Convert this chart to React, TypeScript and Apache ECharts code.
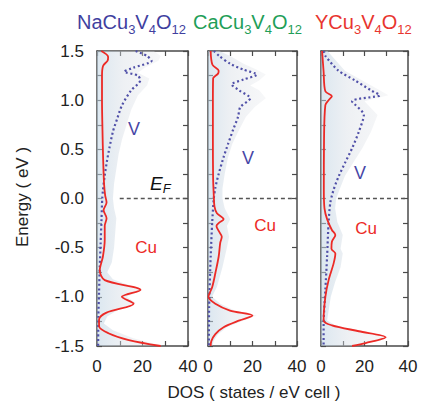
import React, { useEffect, useRef } from 'react';
import * as echarts from 'echarts';

const FONT = '"Liberation Sans", Arial, Helvetica, sans-serif';

// x tick labels shown, y tick labels shown
const xLabelValues = [0, 20, 40];
const yLabelValues = [-1.5, -1.0, -0.5, 0.0, 0.5, 1.0, 1.5];

const compounds = ['Na', 'Ca', 'Y'];
const titleColors = ['#3f3f9f', '#1f9e58', '#e8352f'];

// [DOS, Energy]
const naTotal = [[25,1.5],[28,1.45],[27,1.4],[21,1.33],[18,1.28],[23,1.22],[22,1.15],[18,1.05],[15,0.9],[13,0.75],[11,0.6],[9.5,0.45],[8.5,0.3],[7.5,0.15],[7,0],[7.5,-0.1],[8.5,-0.2],[8,-0.35],[7.5,-0.5],[6.5,-0.65],[4.5,-0.75],[7,-0.82],[14,-0.88],[20,-0.93],[13,-1.0],[17,-1.06],[10,-1.12],[4.5,-1.2],[3,-1.27],[7,-1.34],[16,-1.42],[29,-1.5]];
const naCu = [[1.9,1.5],[4.9,1.44],[4.6,1.4],[2.7,1.35],[2.2,1.25],[2.2,1.0],[2.4,0.7],[2.7,0.4],[3.1,0.15],[3.6,0.03],[4.2,-0.04],[2.9,-0.12],[4.2,-0.2],[3.4,-0.28],[3.4,-0.42],[2.6,-0.59],[1.2,-0.73],[3.4,-0.83],[19.1,-0.93],[10.9,-1.0],[16.1,-1.07],[4.2,-1.16],[0.9,-1.23],[0.9,-1.3],[5,-1.37],[14,-1.44],[28,-1.5]];
const naV = [[17,1.5],[22,1.45],[24,1.4],[16,1.33],[12,1.29],[18,1.25],[19,1.2],[15,1.1],[11,0.95],[9,0.82],[7,0.68],[5.5,0.52],[4.3,0.37],[3.3,0.22],[2.6,0.08],[2.3,0],[2,-0.2],[1.6,-0.45],[1.2,-0.7],[0.9,-0.95],[0.6,-1.2],[0.5,-1.5]];

const caTotal = [[5,1.5],[10,1.45],[16,1.37],[22,1.31],[26,1.26],[23,1.2],[19,1.15],[23,1.1],[26,1.02],[21,0.93],[17,0.83],[14,0.7],[11,0.56],[9,0.42],[7.5,0.25],[6.5,0.1],[6.5,0],[7.5,-0.1],[10,-0.21],[8.5,-0.28],[9.5,-0.39],[8.5,-0.5],[6.5,-0.7],[4,-0.9],[1.8,-1.0],[5.5,-1.07],[12,-1.14],[22,-1.19],[16,-1.24],[8.5,-1.31],[4.5,-1.38],[2.5,-1.45],[2,-1.5]];
const caCu = [[1.2,1.5],[2,1.36],[4.8,1.3],[4.5,1.27],[2.3,1.22],[2.2,1.0],[2.2,0.6],[2.3,0.2],[2.6,0.03],[2.9,-0.08],[4,-0.15],[7,-0.21],[4.8,-0.25],[3.8,-0.28],[4.8,-0.33],[6.2,-0.39],[5.5,-0.45],[4.8,-0.59],[3.3,-0.76],[1.9,-0.9],[0.2,-1.0],[3.3,-1.07],[9.9,-1.14],[20,-1.19],[14.2,-1.24],[7,-1.31],[3.3,-1.38],[1.5,-1.45],[1.2,-1.5]];
const caV = [[2.6,1.5],[5,1.45],[10,1.37],[16,1.31],[22,1.26],[16,1.21],[10.6,1.16],[14,1.1],[19,1.02],[14.5,0.93],[13.5,0.83],[11.3,0.7],[9.1,0.56],[7,0.42],[4.8,0.25],[3.3,0.11],[2.6,0.0],[1.9,-0.24],[1.2,-0.59],[0.5,-1.1],[0.4,-1.5]];

const yTotal = [[3,1.5],[5,1.45],[11,1.3],[19,1.2],[27,1.1],[31,1.05],[20,0.99],[26,0.85],[23,0.68],[19,0.51],[15,0.37],[11,0.23],[8.5,0.09],[7,0],[6.5,-0.1],[7.5,-0.24],[10,-0.37],[9,-0.51],[10,-0.56],[9,-0.7],[6.5,-0.85],[4.5,-1.0],[2.8,-1.24],[6.5,-1.29],[19,-1.35],[31,-1.41],[22,-1.47],[16,-1.5]];
const yCu = [[0.5,1.5],[1.2,1.29],[2,1.09],[5,1.04],[3.5,1.0],[2,0.95],[1.4,0.61],[1.3,0.09],[1.6,-0.1],[2.8,-0.21],[5,-0.32],[6.6,-0.37],[5,-0.44],[4.8,-0.51],[6.6,-0.56],[5.8,-0.66],[3.5,-0.83],[2,-1.0],[1.2,-1.24],[5,-1.29],[17.4,-1.35],[29.7,-1.41],[20.5,-1.47],[14.3,-1.5]];
const yV = [[1.2,1.5],[2,1.45],[8,1.3],[15.7,1.2],[23,1.1],[27,1.05],[14.3,0.99],[19.7,0.85],[17.4,0.68],[14.3,0.51],[11.2,0.37],[8.2,0.23],[5.8,0.09],[4.3,-0.04],[3.5,-0.24],[2.8,-0.59],[2,-0.93],[1.2,-1.28],[1.2,-1.5]];

const totals = [naTotal, caTotal, yTotal];
const cuSeries = [naCu, caCu, yCu];
const vSeries = [naV, caV, yV];
const efStart = [10, 7.6, 7.8];
const efEnergy = 0;

const gridBoxes = [
  { left: 97, width: 91 },
  { left: 208, width: 89 },
  { left: 321, width: 87 },
];
const GRID_TOP = 51;
const GRID_H = 295;

const AXIS_COLOR = '#4a4a4a';

function buildOption() {
  const grid: any[] = [];
  const xAxis: any[] = [];
  const yAxis: any[] = [];
  const series: any[] = [];
  const axisLine = { show: true, onZero: false, lineStyle: { color: AXIS_COLOR, width: 1.5 } };
  const axisTick = { show: true, inside: true, length: 5, lineStyle: { color: AXIS_COLOR, width: 1.2 } };

  for (let i = 0; i < 3; i++) {
    grid.push({ left: gridBoxes[i].left, width: gridBoxes[i].width, top: GRID_TOP, height: GRID_H, show: false });
    xAxis.push({
      gridIndex: i, type: 'value', min: 0, max: 40, interval: 10, position: 'bottom',
      axisLine, axisTick, splitLine: { show: false },
      axisLabel: {
        show: true, fontSize: 17, color: '#222', fontFamily: FONT, margin: 12,
        formatter: (v: number) => (xLabelValues.indexOf(v) >= 0 ? String(v) : ''),
      },
    });
    xAxis.push({
      gridIndex: i, type: 'value', min: 0, max: 40, interval: 10, position: 'top',
      axisLine, axisTick, splitLine: { show: false }, axisLabel: { show: false },
    });
    yAxis.push({
      gridIndex: i, type: 'value', min: -1.5, max: 1.5, interval: 0.25, position: 'left',
      axisLine, axisTick, splitLine: { show: false },
      axisLabel: {
        show: i === 0, fontSize: 17, color: '#222', fontFamily: FONT, margin: 13,
        formatter: (v: number) => {
          const hit = yLabelValues.find((t) => Math.abs(t - v) < 1e-6);
          return hit === undefined ? '' : hit.toFixed(1);
        },
      },
    });
    yAxis.push({
      gridIndex: i, type: 'value', min: -1.5, max: 1.5, interval: 0.25, position: 'right',
      axisLine, axisTick, splitLine: { show: false }, axisLabel: { show: false },
    });

    const tot = totals[i];
    series.push({
      type: 'custom',
      xAxisIndex: 2 * i,
      yAxisIndex: 2 * i,
      silent: true,
      z: 1,
      data: tot,
      renderItem: (params: any, api: any) => {
        if (params.dataIndex !== 0) return { type: 'group', children: [] };
        const pts = [api.coord([0, tot[0][1]])]
          .concat(tot.map((p) => api.coord(p)))
          .concat([api.coord([0, tot[tot.length - 1][1]])]);
        return {
          type: 'polygon',
          shape: { points: pts },
          style: {
            fill: new echarts.graphic.LinearGradient(0, 0, 1, 0, [
              { offset: 0, color: 'rgba(190,212,228,0.55)' },
              { offset: 0.4, color: 'rgba(214,220,228,0.42)' },
              { offset: 1, color: 'rgba(228,230,234,0.3)' },
            ]),
            stroke: 'none',
          },
        };
      },
    });
    series.push({
      type: 'line', xAxisIndex: 2 * i, yAxisIndex: 2 * i, data: vSeries[i],
      showSymbol: false, smooth: 0.25, z: 3, silent: true,
      lineStyle: { color: '#5050a8', width: 2.2, type: [2, 2.6] },
    });
    series.push({
      type: 'line', xAxisIndex: 2 * i, yAxisIndex: 2 * i, data: cuSeries[i],
      showSymbol: false, smooth: 0.3, z: 4, silent: true,
      lineStyle: { color: '#ec2a26', width: 1.8 },
    });
    series.push({
      type: 'line', xAxisIndex: 2 * i, yAxisIndex: 2 * i,
      data: [[efStart[i], efEnergy], [40, efEnergy]],
      showSymbol: false, z: 5, silent: true,
      lineStyle: { color: '#555', width: 1.5, type: [4, 3] },
    });
  }

  const txt = (x: number, y: number, text: string, color: string, fontSize: number, extra: any = {}) => ({
    type: 'text', x, y, silent: true, z: 10,
    style: {
      text, fill: color, fontSize, fontFamily: FONT,
      align: 'center', verticalAlign: 'middle', textAlign: 'center', textVerticalAlign: 'middle',
      ...extra,
    },
  });

  const titleX = [77, 193, 315];
  const graphic: any[] = [];
  for (let i = 0; i < 3; i++) {
    graphic.push({
      type: 'text', x: titleX[i], y: 22, silent: true, z: 10,
      style: {
        text: compounds[i] + 'Cu{s|3}V{s|4}O{s|12}',
        fill: titleColors[i], fontSize: 20, fontFamily: FONT,
        align: 'left', verticalAlign: 'middle', textAlign: 'left', textVerticalAlign: 'middle',
        rich: { s: { fontSize: 13, fill: titleColors[i], fontFamily: FONT, padding: [14, 0, 0, 0] } },
      },
    });
  }
  graphic.push(txt(22, 197, 'Energy ( eV )', '#222', 17, {}));
  graphic[graphic.length - 1].rotation = Math.PI / 2;
  graphic.push(txt(254, 392, 'DOS ( states / eV cell )', '#222', 17));

  // annotations
  graphic.push(txt(134, 129, 'V', '#4646a6', 18));
  graphic.push(txt(248, 158, 'V', '#4646a6', 18));
  graphic.push(txt(360, 173, 'V', '#4646a6', 18));
  graphic.push(txt(146, 247, 'Cu', '#ec2a26', 17));
  graphic.push(txt(265, 225, 'Cu', '#ec2a26', 17));
  graphic.push(txt(366, 228, 'Cu', '#ec2a26', 17));
  graphic.push({
    type: 'text', x: 150, y: 183, silent: true, z: 10,
    style: {
      text: 'E{f|F}', fill: '#111', fontSize: 19, fontStyle: 'italic', fontFamily: FONT,
      align: 'left', verticalAlign: 'middle', textAlign: 'left', textVerticalAlign: 'middle',
      rich: { f: { fontSize: 13, fontStyle: 'italic', fill: '#111', fontFamily: FONT, padding: [10, 0, 0, 0] } },
    },
  });

  return {
    animation: false,
    backgroundColor: '#ffffff',
    grid, xAxis, yAxis, series, graphic,
  };
}

export default function App() {
  const ref = useRef<HTMLDivElement>(null);
  useEffect(() => {
    if (!ref.current) return;
    const chart = echarts.init(ref.current, undefined, { renderer: 'svg' });
    chart.setOption(buildOption() as any);
    return () => chart.dispose();
  }, []);
  return (
    <div
      ref={ref}
      style={{ position: 'fixed', left: 0, top: 0, width: 422, height: 413, background: '#fff' }}
    />
  );
}
